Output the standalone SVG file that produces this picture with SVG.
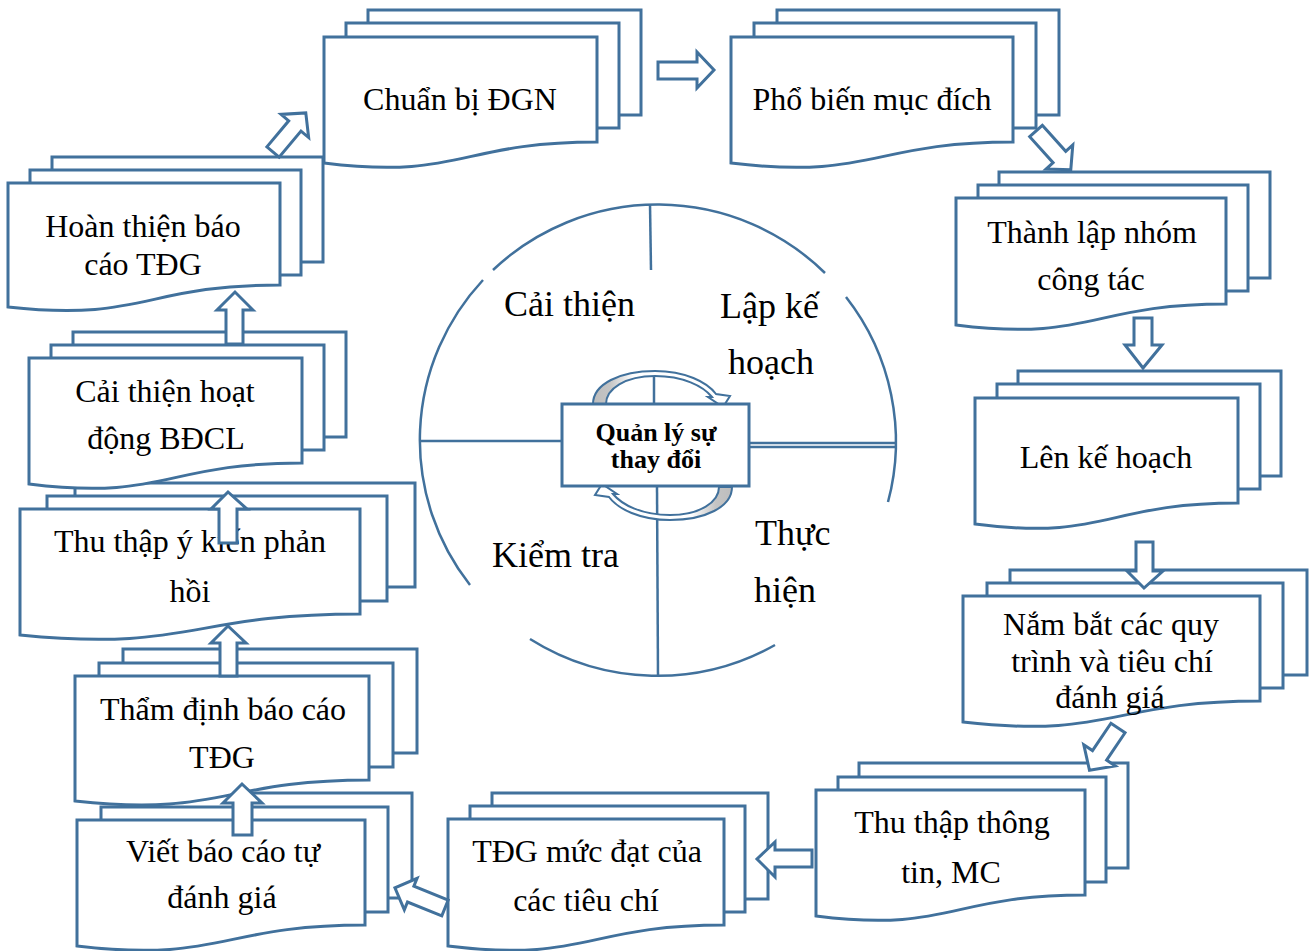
<svg xmlns="http://www.w3.org/2000/svg" width="1315" height="951" viewBox="0 0 1315 951">
  <style>
    .pg { fill: #ffffff; stroke: #41719c; stroke-width: 3; stroke-linejoin: miter; }
    .ar { fill: #ffffff; stroke: #41719c; stroke-width: 3; stroke-linejoin: miter; }
    .ln { fill: none; stroke: #41719c; stroke-width: 2.5; }
    .tx { font-family: "Liberation Serif", "Times New Roman", serif; font-size: 32px; fill: #000000; text-anchor: middle; }
    .lb { font-family: "Liberation Serif", "Times New Roman", serif; font-size: 36px; fill: #000000; }
    .ct { font-family: "Liberation Serif", "Times New Roman", serif; font-size: 26px; font-weight: bold; fill: #000000; text-anchor: middle; }
    .loop { stroke: #41719c; stroke-width: 2; stroke-linejoin: miter; }
  </style>
  <defs>
    <linearGradient id="loopFill" x1="0" y1="0" x2="1" y2="0">
      <stop offset="0" stop-color="#bdbdbd"/>
      <stop offset="0.12" stop-color="#c4c4c4"/>
      <stop offset="0.3" stop-color="#ffffff"/>
      <stop offset="1" stop-color="#ffffff"/>
    </linearGradient>
    <path id="loopArrow" class="loop" fill="url(#loopFill)"
          d="M593,404 C593,384 620,371 655,371 C685,371 707,382 716,394 L730,396 L723,407 L708,397 L712,397 C703,386 683,376 655,376 C625,376 606,389 606,404 Z"/>
  </defs>

  <rect width="1315" height="951" fill="#ffffff"/>

  <!-- central cycle -->
  <g id="cycle">
    <path class="ln" d="M493,270 A238,236 0 0 1 825,273"/>
    <path class="ln" d="M846,297 A238,236 0 0 1 888,502"/>
    <path class="ln" d="M775,645 A238,236 0 0 1 530,639"/>
    <path class="ln" d="M470,585 A238,236 0 0 1 483,280"/>
    <line class="ln" x1="650" y1="204" x2="651" y2="270"/>
    <line class="ln" x1="654" y1="371" x2="654" y2="404"/>
    <line class="ln" x1="657" y1="486" x2="658" y2="676"/>
    <line class="ln" x1="421" y1="441" x2="562" y2="441" stroke-width="3.5"/>
    <line class="ln" x1="749" y1="443" x2="896" y2="443" stroke-width="1.6"/>
    <line class="ln" x1="749" y1="447" x2="896" y2="447" stroke-width="1.6"/>
    <text class="lb" x="504" y="316">Cải thiện</text>
    <text class="lb" x="720" y="318">Lập kế</text>
    <text class="lb" x="728" y="374">hoạch</text>
    <text class="lb" x="755" y="545">Thực</text>
    <text class="lb" x="754" y="602">hiện</text>
    <text class="lb" x="492" y="567">Kiểm tra</text>
  </g>

  <g id="center">
    <use href="#loopArrow"/>
    <use href="#loopArrow" transform="rotate(180 662.5 445.5)"/>
    <rect class="pg" x="562" y="404" width="187" height="82" stroke-width="2.5"/>
    <text class="ct" x="656" y="441">Quản lý sự</text>
    <text class="ct" x="656" y="468">thay đổi</text>
  </g>

  <!-- process steps -->
  <g id="n-chuan-bi">
    <rect class="pg" x="368" y="10" width="273" height="105"/>
    <rect class="pg" x="346" y="23" width="273" height="105"/>
    <path class="pg" d="M324,37 H597 V142 C460,142 460,180 324,163 Z"/>
    <text class="tx" x="460" y="110">Chuẩn bị ĐGN</text>
  </g>

  <g id="n-pho-bien">
    <rect class="pg" x="777" y="10" width="282" height="105"/>
    <rect class="pg" x="754" y="23" width="282" height="105"/>
    <path class="pg" d="M731,37 H1013 V142 C872,142 872,180 731,163 Z"/>
    <text class="tx" x="872" y="110">Phổ biến mục đích</text>
  </g>

  <g id="n-thanh-lap">
    <rect class="pg" x="999" y="172" width="271" height="106"/>
    <rect class="pg" x="978" y="185" width="270" height="106"/>
    <path class="pg" d="M956,198 H1226 V304 C1091,304 1091,342 956,325 Z"/>
    <text class="tx" x="1092" y="243">Thành lập nhóm</text>
    <text class="tx" x="1091" y="290">công tác</text>
  </g>

  <g id="n-len-ke-hoach">
    <rect class="pg" x="1018" y="371" width="263" height="105"/>
    <rect class="pg" x="997" y="384" width="263" height="105"/>
    <path class="pg" d="M975,398 H1238 V503 C1106,503 1106,541 975,524 Z"/>
    <text class="tx" x="1106" y="468">Lên kế hoạch</text>
  </g>

  <g id="n-nam-bat">
    <rect class="pg" x="1010" y="570" width="297" height="105"/>
    <rect class="pg" x="987" y="583" width="296" height="105"/>
    <path class="pg" d="M963,596 H1260 V701 C1111,701 1111,739 963,722 Z"/>
    <text class="tx" x="1111" y="635">Nắm bắt các quy</text>
    <text class="tx" x="1112" y="672">trình và tiêu chí</text>
    <text class="tx" x="1110" y="708">đánh giá</text>
  </g>

  <g id="n-thu-thap-thong-tin">
    <rect class="pg" x="859" y="763" width="269" height="105"/>
    <rect class="pg" x="838" y="777" width="268" height="105"/>
    <path class="pg" d="M816,790 H1085 V895 C950,895 950,933 816,916 Z"/>
    <text class="tx" x="952" y="833">Thu thập thông</text>
    <text class="tx" x="951" y="883">tin, MC</text>
  </g>

  <g id="n-tdg-muc-dat">
    <rect class="pg" x="492" y="793" width="276" height="106"/>
    <rect class="pg" x="470" y="806" width="275" height="106"/>
    <path class="pg" d="M448,819 H724 V925 C586,925 586,963 448,946 Z"/>
    <text class="tx" x="587" y="862">TĐG mức đạt của</text>
    <text class="tx" x="586" y="911">các tiêu chí</text>
  </g>

  <g id="n-viet-bao-cao">
    <rect class="pg" x="124" y="793" width="288" height="105"/>
    <rect class="pg" x="101" y="807" width="287" height="105"/>
    <path class="pg" d="M77,820 H365 V925 C221,925 221,963 77,946 Z"/>
    <text class="tx" x="223" y="862">Viết báo cáo tự</text>
    <text class="tx" x="222" y="908">đánh giá</text>
  </g>

  <g id="n-tham-dinh">
    <rect class="pg" x="123" y="649" width="294" height="104"/>
    <rect class="pg" x="99" y="663" width="294" height="104"/>
    <path class="pg" d="M75,676 H369 V780 C222,780 222,817 75,801 Z"/>
    <text class="tx" x="223" y="720">Thẩm định báo cáo</text>
    <text class="tx" x="222" y="768">TĐG</text>
  </g>

  <g id="n-thu-thap-y-kien">
    <rect class="pg" x="75" y="483" width="340" height="104"/>
    <rect class="pg" x="47" y="496" width="340" height="105"/>
    <path class="pg" d="M20,509 H360 V614 C190,614 190,652 20,635 Z"/>
    <text class="tx" x="190" y="552">Thu thập ý kiến phản</text>
    <text class="tx" x="190" y="602">hồi</text>
  </g>

  <g id="n-cai-thien-hd">
    <rect class="pg" x="73" y="332" width="273" height="105"/>
    <rect class="pg" x="51" y="345" width="273" height="105"/>
    <path class="pg" d="M29,358 H302 V463 C165,463 165,501 29,484 Z"/>
    <text class="tx" x="165" y="402">Cải thiện hoạt</text>
    <text class="tx" x="166" y="449">động BĐCL</text>
  </g>

  <g id="n-hoan-thien">
    <rect class="pg" x="52" y="157" width="271" height="105"/>
    <rect class="pg" x="30" y="170" width="271" height="105"/>
    <path class="pg" d="M8,183 H280 V285 C144,285 144,322 8,307 Z"/>
    <text class="tx" x="143" y="237">Hoàn thiện báo</text>
    <text class="tx" x="143" y="275">cáo TĐG</text>
  </g>

  <!-- block arrows between steps -->
  <g id="connectors">
    <polygon class="ar" points="658,62 697,62 697,52 714,70 697,88 697,79 658,79"/>
    <path class="ar" transform="translate(1036,131) rotate(48)" d="M0,-8.5 L35,-8.5 L35,-18 L52,0 L35,18 L35,8.5 L0,8.5 Z"/>
    <polygon class="ar" points="1134,318 1152,318 1152,345 1162,345 1143,368 1125,345 1134,345"/>
    <polygon class="ar" points="1136,542 1153,542 1153,571 1163,571 1144,588 1127,571 1136,571"/>
    <path class="ar" transform="translate(1118,728) rotate(124)" d="M0,-8.5 L33,-8.5 L33,-19 L51,0 L33,19 L33,8.5 L0,8.5 Z"/>
    <polygon class="ar" points="812,850 775,850 775,842 757,859 775,877 775,867 812,867"/>
    <path class="ar" transform="translate(445,908) rotate(202)" d="M0,-8.5 L37,-8.5 L37,-17 L54,0 L37,17 L37,8.5 L0,8.5 Z"/>
    <polygon class="ar" points="233,835 233,803 223,803 242,784 262,803 252,803 252,835"/>
    <polygon class="ar" points="220,676 220,643 211,643 228,626 246,643 237,643 237,676"/>
    <polygon class="ar" points="219,543 219,509 211,509 228,492 247,509 237,509 237,543"/>
    <polygon class="ar" points="226,344 226,310 217,310 235,292 253,310 243,310 243,344"/>
    <path class="ar" transform="translate(273,152) rotate(-50)" d="M0,-8 L34,-8 L34,-18 L51,0 L34,18 L34,8 L0,8 Z"/>
  </g>
</svg>
